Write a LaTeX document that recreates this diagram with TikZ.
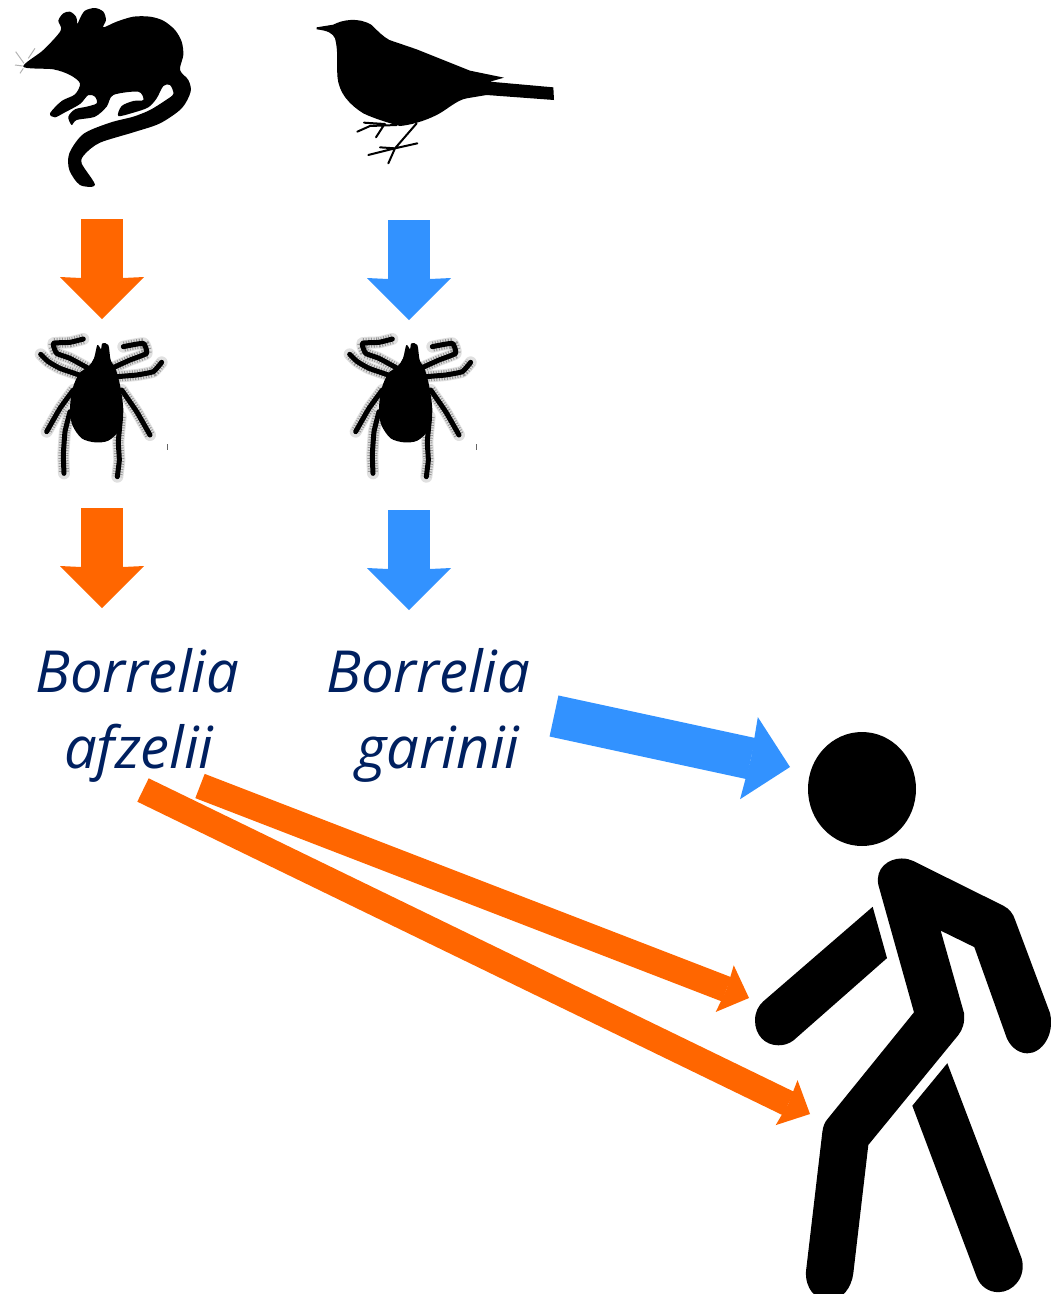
\documentclass[tikz,border=0pt]{standalone}
\usepackage{fontspec}
\setmainfont{Open Sans}
\usetikzlibrary{arrows.meta}
\definecolor{orangeA}{HTML}{FF6600}
\definecolor{blueA}{HTML}{3292FF}
\definecolor{navyA}{HTML}{002060}
\tikzset{
  bigarrow/.style={line width=42pt,-{Stealth[length=42pt,width=84pt,inset=2pt,line width=0pt]}},
  thinarrow/.style={line width=26pt,-{Stealth[length=26pt,width=50pt,inset=2pt,line width=0pt]}},
  label/.style={anchor=base west,text=navyA,align=left,inner sep=0pt,font=\fontsize{58}{76}\selectfont\itshape},
  silh/.style={fill=black},
  halobase/.style={draw=black!12,line width=12pt,line cap=round,line join=round},
  halospeck/.style={draw=black!40,line width=10pt,line cap=butt,line join=round,dash pattern=on 1pt off 1.6pt},
  legline/.style={draw=black,line width=5pt,line cap=round,line join=round},
  tickbug/.pic={
    \begin{scope}[xscale=1/3,yscale=1/3]
      \foreach \st in {halobase,halospeck,legline}{
        \draw[\st] plot[smooth,tension=.25] coordinates{(205,130)(150,100)(110,85)(100,55)(150,52)(190,42)};
        \draw[\st] plot[smooth,tension=.25] coordinates{(178,150)(120,130)(85,110)(62,88)};
        \draw[\st] plot[smooth,tension=.25] coordinates{(160,195)(120,250)(80,320)};
        \draw[\st] plot[smooth,tension=.2] coordinates{(150,260)(135,320)(130,390)(132,445)};
        \draw[\st] plot[smooth,tension=.25] coordinates{(275,130)(330,105)(380,85)(370,55)(310,65)};
        \draw[\st] plot[smooth,tension=.25] coordinates{(290,155)(350,150)(400,140)(425,112)};
        \draw[\st] plot[smooth,tension=.25] coordinates{(305,195)(350,260)(390,330)};
        \draw[\st] plot[smooth,tension=.2] coordinates{(302,275)(295,350)(298,405)(292,455)};
      }
      \fill[black] plot[smooth cycle,tension=.5] coordinates{(232,60)(243,72)(247,55)(265,60)(272,105)(288,135)(302,190)(310,260)(298,315)(265,347)(225,352)(185,340)(157,300)(150,250)(158,190)(178,145)(205,125)(222,100)};
      \draw[black!60,line width=.8pt] (442,358) -- (442,374);
    \end{scope}
  }
}
\begin{document}
\begin{tikzpicture}[x=1pt,y=-1pt]
\useasboundingbox (0,0) rectangle (1051,1294);
\clip (0,0) rectangle (1051,1294);
% mouse
\begin{scope}[xscale=1/3,yscale=1/3]
  \draw[black!30,line width=1pt] (72,190) -- (47,155) (68,198) -- (45,195) (70,205) -- (60,220) (85,175) -- (105,145);
  \fill[silh] plot[smooth cycle,tension=.5] coordinates{(70,200)(130,150)(182,92)(175,62)(190,40)(210,35)(228,50)(232,75)(228,85)(240,55)(255,32)(285,24)(310,35)(318,60)(310,82)(350,65)(400,50)(450,50)(490,62)(525,90)(545,125)(550,165)(540,210)(565,240)(572,275)(545,325)(480,370)(400,397)(300,428)(255,462)(245,490)(285,555)(240,555)(208,510)(208,460)(250,402)(330,368)(400,350)(450,330)(495,302)(520,282)(510,255)(490,258)(470,295)(445,322)(400,338)(355,348)(365,318)(400,303)(430,300)(415,275)(340,285)(320,320)(285,350)(230,360)(215,375)(205,350)(225,328)(260,320)(290,310)(285,290)(265,285)(240,312)(195,337)(165,352)(150,340)(185,303)(225,283)(240,250)(210,225)(160,208)};
\end{scope}
% bird
\begin{scope}[shift={(300,0)},xscale=1/3,yscale=1/3]
  \fill[silh] (50,82) -- (100,74) .. controls (125,60) and (175,50) .. (215,75) .. controls (235,95) and (250,110) .. (268,120) -- (350,148) -- (510,212) -- (612,233) -- (570,245) -- (760,262) -- (762,300) -- (560,285) -- (500,295) .. controls (470,300) and (440,330) .. (410,345) .. controls (370,365) and (330,375) .. (300,378) .. controls (270,370) and (220,355) .. (190,340) .. controls (150,315) and (115,280) .. (112,225) .. controls (110,190) and (115,150) .. (105,115) .. controls (98,100) and (85,92) .. (50,88) -- cycle;
  \draw[black,line width=2pt,line cap=round,line join=round] (290,375) -- (210,378) -- (172,395) (255,372) -- (192,368) (250,378) -- (228,412) (350,370) -- (285,445) -- (265,490) (205,465) -- (285,445) -- (352,430) (240,442) -- (285,445);
\end{scope}
% ticks
\pic at (20,325) {tickbug};
\pic at (329,325) {tickbug};
% vertical arrows
\coordinate (o1a) at (102,219); \coordinate (o1b) at (102,319);
\coordinate (b1a) at (409,220); \coordinate (b1b) at (409,320);
\coordinate (o2a) at (102,508); \coordinate (o2b) at (102,608);
\coordinate (b2a) at (409,510); \coordinate (b2b) at (409,610);
\draw[bigarrow,orangeA] (o1a) -- (o1b);
\draw[bigarrow,blueA] (b1a) -- (b1b);
\draw[bigarrow,orangeA] (o2a) -- (o2b);
\draw[bigarrow,blueA] (b2a) -- (b2b);
% labels
\node[label] (afz) at (35,768) {Borrelia\\\hspace*{29pt}afzelii};
\node[label] (gar) at (326,768) {Borrelia\\\hspace*{30pt}garinii};
% diagonal arrows
\coordinate (bd) at (554,716); \coordinate (be) at (790,767);
\draw[bigarrow,blueA] (bd) -- (be);
\coordinate (od1) at (200,786); \coordinate (oe1) at (749,998);
\coordinate (od2) at (143,790); \coordinate (oe2) at (810,1114);
\draw[thinarrow,orangeA] (od1) -- (oe1);
\draw[thinarrow,orangeA] (od2) -- (oe2);
% person
\fill[silh] (862,789) ellipse [x radius=54,y radius=57];
\begin{scope}[shift={(740,720)},xscale=1/3,yscale=1/2.73]
  \fill[silh] (415,450) .. controls (405,405) and (445,378) .. (485,378) .. controls (500,378) and (510,381) .. (520,385) -- (790,507) .. controls (808,515) and (820,530) .. (825,545) -- (930,800) .. controls (945,860) and (905,910) .. (862,910) .. controls (830,910) and (805,885) .. (797,860) -- (703,620) -- (602,575) -- (672,800) .. controls (675,825) and (668,845) .. (655,860) -- (385,1160) -- (340,1510) .. controls (335,1550) and (305,1585) .. (268,1585) .. controls (225,1585) and (195,1550) .. (198,1505) -- (247,1125) .. controls (249,1110) and (254,1098) .. (262,1090) -- (522,798) -- cycle;
  \fill[silh] (398,510) -- (441,650) -- (160,875) .. controls (145,885) and (130,888) .. (115,888) .. controls (75,888) and (45,860) .. (45,820) .. controls (45,798) and (55,780) .. (70,768) -- cycle;
  \fill[silh] (622,937) -- (845,1470) .. controls (860,1520) and (820,1562) .. (775,1562) .. controls (745,1562) and (720,1545) .. (710,1520) -- (517,1053) -- cycle;
\end{scope}
\end{tikzpicture}
\end{document}
